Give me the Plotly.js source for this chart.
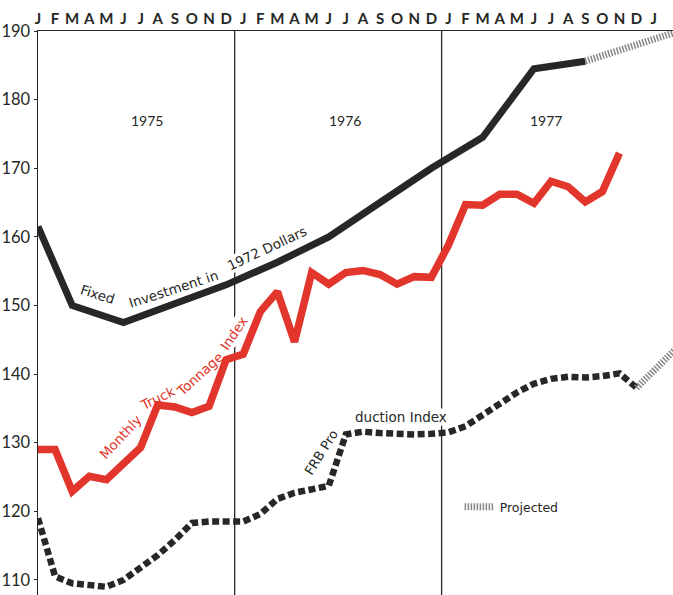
<!DOCTYPE html>
<html>
<head>
<meta charset="utf-8">
<script src="https://cdn.plot.ly/plotly-3.0.1.min.js"></script>
<style>html,body{margin:0;padding:0;background:#fff;}#chart{width:673px;height:595px;}</style>
</head>
<body>
<div id="chart"></div>
<script>
// Month index: 0 = Jan 1975
var monthLetters = ['J','F','M','A','M','J','J','A','S','O','N','D'];
var tickLabels = monthLetters.concat(monthLetters, monthLetters, ['J','F']);
var tickMonths = tickLabels.map(function(_, i){ return i; });
var yearLabels = ['1975','1976','1977'];

// Fixed Investment in 1972 Dollars (quarterly)
var fixedMonths = [0,2,5,8,11,14,17,20,23,26,29,32];
var fixedValues = [161.5,150.0,147.5,150.3,153.0,156.3,160.0,165.0,170.0,174.5,184.5,185.6];
var fixedProjMonths = [32,38];
var fixedProjValues = [185.6,190.4];

// Monthly Truck Tonnage Index
var truckMonths = [0,1,2,3,4,5,6,7,8,9,10,11,12,13,14,15,16,17,18,19,20,21,22,23,24,25,26,27,28,29,30,31,32,33,34];
var truckValues = [129.0,129.0,122.9,125.1,124.6,126.8,129.3,135.5,135.2,134.4,135.3,142.1,142.9,149.1,152.0,144.7,154.8,153.1,154.8,155.1,154.5,153.1,154.2,154.1,158.8,164.7,164.6,166.2,166.2,164.9,168.1,167.3,165.1,166.6,172.2];

// FRB Production Index
var frbMonths = [0,1,2,3,4,5,6,7,8,9,10,11,12,13,14,15,16,17,18,19,20,21,22,23,24,25,26,27,28,29,30,31,32,33,34,35];
var frbValues = [119.0,110.5,109.5,109.2,109.0,110.0,111.8,113.6,115.8,118.3,118.5,118.5,118.5,119.6,121.8,122.7,123.1,123.7,131.2,131.6,131.4,131.2,131.2,131.3,131.5,132.4,134.0,135.6,137.3,138.6,139.3,139.6,139.5,139.7,140.1,138.0];
var frbProjMonths = [35,38];
var frbProjValues = [138.0,145.4];

var INK = '#262826';
var RED = '#e2352b';
var GREY = '#858585';
var FONT = 'Lato, "Noto Sans", sans-serif';
var LFONT = '"DejaVu Sans", "Noto Sans", sans-serif';

var traces = [
  {x: fixedMonths, y: fixedValues, type:'scatter', mode:'lines', showlegend:false,
   line:{color:INK, width:7}, hoverinfo:'skip'},
  {x: fixedProjMonths, y: fixedProjValues, type:'scatter', mode:'lines', name:'Projected', showlegend:true,
   line:{color:GREY, width:7, dash:'1.5px,1.5px'}, hoverinfo:'skip'},
  {x: truckMonths, y: truckValues, type:'scatter', mode:'lines', showlegend:false,
   line:{color:RED, width:7.5}, hoverinfo:'skip'},
  {x: frbMonths, y: frbValues, type:'scatter', mode:'lines', showlegend:false,
   line:{color:INK, width:6.5, dash:'7px,3.5px'}, hoverinfo:'skip'},
  {x: frbProjMonths, y: frbProjValues, type:'scatter', mode:'lines', showlegend:false,
   line:{color:GREY, width:7, dash:'1.5px,1.5px'}, hoverinfo:'skip'}
];

function ann(text, x, y, angle, color, size, bg, fam){
  var a = {text:text, x:x, y:y, xref:'x', yref:'y', showarrow:false, textangle:angle,
    font:{family:fam || LFONT, size:size, color:color}, xanchor:'center', yanchor:'middle', borderpad:0};
  if (bg) a.bgcolor = '#ffffff';
  return a;
}

var annotations = [
  ann(yearLabels[0], 6.4, 176.9, 0, INK, 14, false, FONT),
  ann(yearLabels[1], 17.95, 176.9, 0, INK, 14, false, FONT),
  ann(yearLabels[2], 29.7, 176.9, 0, INK, 14, false, FONT),
  ann('Fixed', 3.45, 151.6, 17, INK, 13.5),
  ann('Investment in', 7.9, 152.4, -18, INK, 13.5),
  ann('1972 Dollars', 13.4, 158.4, -25, INK, 13.5, true),
  ann('Monthly', 4.8, 130.9, -47, RED, 13.5),
  ann('Truck', 7.0, 136.5, -26, RED, 13.5),
  ann('Tonnage', 9.45, 140.0, -42, RED, 13.5),
  ann('Index', 11.45, 146.0, -56, RED, 13.5, true),
  ann('FRB Pro', 16.55, 128.6, -58, INK, 13),
  ann('duction Index', 21.2, 133.7, 0, INK, 13.5, true)
];

var layout = {
  width:673, height:595,
  margin:{l:38, r:0, t:31, b:0, pad:0},
  paper_bgcolor:'#ffffff', plot_bgcolor:'#ffffff',
  showlegend:true,
  legend:{x:0.664, xanchor:'left', y:0.156, yanchor:'middle', bgcolor:'rgba(0,0,0,0)',
          font:{family:LFONT, size:12.5, color:INK}},
  xaxis:{range:[0,37.13], side:'top', tickmode:'array', tickvals:tickMonths, ticktext:tickLabels,
         showgrid:false, zeroline:false, showline:true, linecolor:INK, linewidth:1.5,
         ticks:'', tickfont:{family:FONT, size:15, color:INK, weight:'bold'}, fixedrange:true},
  yaxis:{range:[107.8,190], tickmode:'array', tickvals:[110,120,130,140,150,160,170,180,190],
         showgrid:false, zeroline:false, showline:true, linecolor:INK, linewidth:1.5,
         ticks:'outside', ticklen:3, tickcolor:INK, tickwidth:1,
         tickfont:{family:FONT, size:16.5, color:INK}, fixedrange:true},
  shapes:[
    {type:'line', xref:'x', yref:'paper', x0:11.5, x1:11.5, y0:0, y1:1, layer:'below', line:{color:INK, width:1.3}},
    {type:'line', xref:'x', yref:'paper', x0:23.6, x1:23.6, y0:0, y1:1, layer:'below', line:{color:INK, width:1.3}}
  ],
  annotations:annotations
};

Plotly.newPlot('chart', traces, layout, {staticPlot:true, displayModeBar:false});
</script>
</body>
</html>
